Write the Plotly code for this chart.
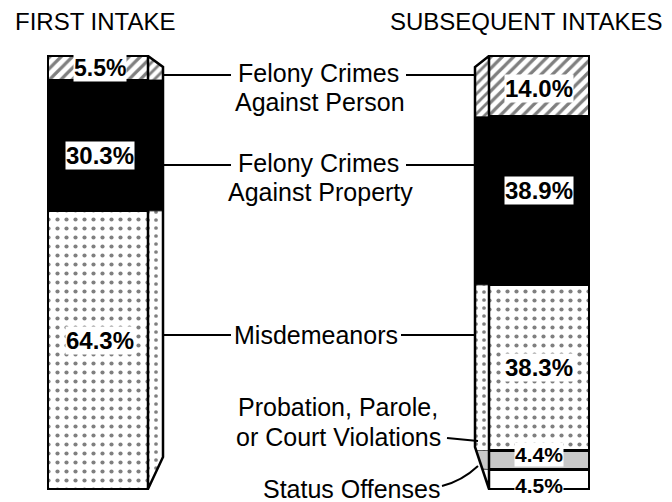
import numpy as np
import plotly.graph_objects as go

# ---------------- data ----------------
groups = ["FIRST INTAKE", "SUBSEQUENT INTAKES"]
categories = ["Status Offenses",
              "Probation, Parole, or Court Violations",
              "Misdemeanors",
              "Felony Crimes Against Property",
              "Felony Crimes Against Person"]          # bottom -> top
first_intake = [0.0, 0.0, 64.3, 30.3, 5.5]
subsequent_intakes = [4.5, 4.4, 38.3, 38.9, 14.0]
values = [first_intake, subsequent_intakes]

# ---------------- layout constants (screen pixels) ----------------
W, H = 672, 502
OFF = 8                  # page body margin
BASE_PX = 489            # pixel row of 0 %
TOP_PX = 56              # pixel row of the stack top
TOTAL = max(sum(v) for v in values)
PPU = (BASE_PX - TOP_PX) / TOTAL
BAR_X = [98, 539]        # bar centres (x axis in pixels)
BAR_W = 100
DEPTH = [15, -14]        # side face width, + = right side, - = left side
CUT_TOP = 11 / PPU       # slanted top corner of side face
CUT_BOT = [32 / PPU, 42 / PPU]
FONT = "Liberation Sans, Arial, Helvetica, sans-serif"
# label nudges in pixels (per bar, per segment bottom->top), + = up
LABEL_DY = [[0, 0, 9, -10, 0], [-6, 6, 0, 10, -2]]
LABEL_SIZE = [[24, 24, 24, 24, 23], [21, 21, 24, 24, 24]]

def py(p):               # screen pixel row -> paper
    return 1 - (p - OFF) / H

styles = [
    dict(color="white", pattern=None),
    dict(color="#c8c8c8", pattern=None),
    dict(color="white", pattern=dict(shape=".", fgcolor="black", bgcolor="white", size=9, solidity=0.17)),
    dict(color="black", pattern=None),
    dict(color="white", pattern=dict(shape="/", fgcolor="black", bgcolor="white", size=8, solidity=0.4)),
]

fig = go.Figure()

# ---------------- side faces ----------------
for g in range(2):
    xi = BAR_X[g] + np.sign(DEPTH[g]) * BAR_W / 2
    xo = xi + DEPTH[g]
    total = sum(values[g])
    xs = np.linspace(xi, xo, 24)
    t = (xs - xi) / (xo - xi)
    bot_edge = CUT_BOT[g] * t
    top_edge = total - CUT_TOP * t
    cum = 0.0
    for k, v in enumerate(values[g]):
        a, b = cum, cum + v
        cum = b
        if v <= 0:
            continue
        lo = np.maximum(a, bot_edge)
        hi = np.minimum(b, top_edge)
        hi = np.maximum(hi, lo)
        px_ = np.concatenate([xs, xs[::-1]])
        py_ = np.concatenate([lo, hi[::-1]])
        st = styles[k]
        kw = dict(fillcolor=st["color"])
        if st["pattern"]:
            kw["fillpattern"] = dict(st["pattern"], size=7 if k == 4 else 8)
        fig.add_trace(go.Scatter(x=px_, y=py_, mode="lines", fill="toself",
                                 line=dict(width=0.5, color="black"),
                                 hoverinfo="skip", showlegend=False, **kw))
    ox = [xi, xo, xo, xi, xi]
    oy = [total, total - CUT_TOP, CUT_BOT[g], 0, total]
    fig.add_trace(go.Scatter(x=ox, y=oy, mode="lines",
                             line=dict(width=2.5, color="black"),
                             hoverinfo="skip", showlegend=False))

# ---------------- front faces (stacked bars) ----------------
for k, cat in enumerate(categories):
    st = styles[k]
    marker = dict(color=st["color"], line=dict(color="black", width=2.5))
    if st["pattern"]:
        marker["pattern"] = st["pattern"]
    fig.add_trace(go.Bar(x=BAR_X, y=[values[0][k], values[1][k]], width=BAR_W,
                         name=cat, marker=marker, showlegend=False,
                         hoverinfo="skip"))

# ---------------- value labels ----------------
for g in range(2):
    cum = 0.0
    for k, v in enumerate(values[g]):
        mid = cum + v / 2
        cum += v
        if v <= 0:
            continue
        fig.add_annotation(x=BAR_X[g] + (2 if g == 0 else 0), y=mid, xref="x", yref="y",
                           xanchor="center", yanchor="middle", yshift=LABEL_DY[g][k],
                           text=f"<b>{v:.1f}%</b>", showarrow=False,
                           font=dict(family=FONT, size=LABEL_SIZE[g][k], color="black"),
                           bgcolor="white", borderpad=0)

# ---------------- titles ----------------
for txt, x in zip(groups, [95, 526]):
    fig.add_annotation(x=x, y=py(22), xref="x", yref="paper", text=txt,
                       xanchor="center", yanchor="middle",
                       showarrow=False, font=dict(family=FONT, size=24, color="black"))

# ---------------- category text ----------------
cat_lines = [
    ("Felony Crimes", 318, 73), ("Against Person", 320, 102),
    ("Felony Crimes", 318, 163), ("Against Property", 320, 192),
    ("Misdemeanors", 316, 335),
    ("Probation, Parole,", 338, 407), ("or Court Violations", 338, 437),
    ("Status Offenses", 351, 489),
]
for txt, x, y in cat_lines:
    fig.add_annotation(x=x, y=py(y), xref="x", yref="paper", text=txt,
                       xanchor="center", yanchor="middle",
                       showarrow=False, font=dict(family=FONT, size=25, color="black"))

# ---------------- leader lines ----------------
leaders = [
    (163, 231, 75, 75), (406, 476, 75, 75),
    (163, 231, 165, 165), (406, 476, 165, 165),
    (163, 231, 335, 335), (401, 476, 335, 335),
    (447, 478, 438, 441),
]
for x0, x1, y0, y1 in leaders:
    fig.add_shape(type="line", x0=x0, x1=x1, y0=py(y0), y1=py(y1),
                  xref="x", yref="paper", line=dict(color="black", width=2))
fig.add_shape(type="path", xref="x", yref="paper",
              path=f"M 442 {py(486)} Q 462 {py(481)} 478 {py(466)}",
              line=dict(color="black", width=2))

fig.update_layout(
    width=W, height=H, margin=dict(l=0, r=0, t=0, b=0),
    paper_bgcolor="white", plot_bgcolor="white",
    barmode="stack", showlegend=False,
    xaxis=dict(range=[OFF, W + OFF], visible=False, fixedrange=True),
    yaxis=dict(range=[(BASE_PX - H - OFF) / PPU, (BASE_PX - OFF) / PPU],
               visible=False, fixedrange=True),
)

fig.write_html("out.html")
